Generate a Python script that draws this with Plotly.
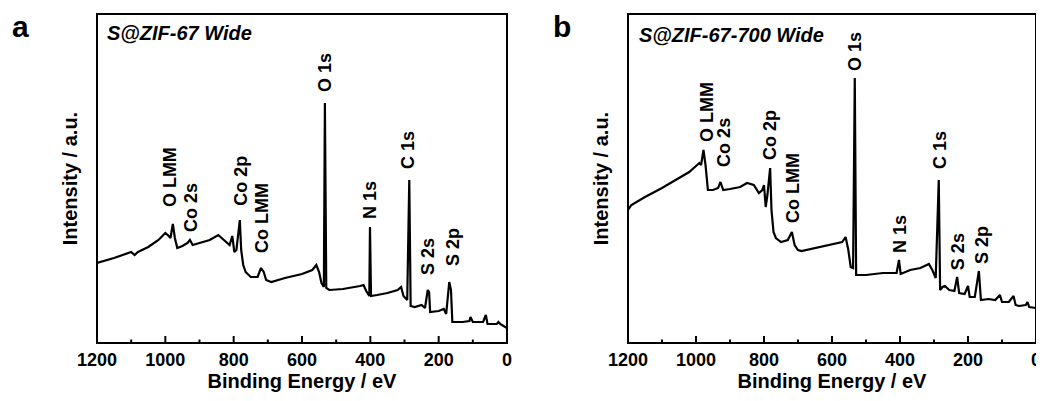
import plotly.graph_objects as go

# ---------------- data (binding energy in eV, intensity in a.u.) ----------------
energy_a = [1200, 1150, 1100, 1090, 1080, 1050, 1020, 1000, 990, 985, 978, 972, 965, 950, 935, 928,
            920, 900, 870, 845, 830, 812, 804, 798, 792, 782, 778, 772, 765, 750, 730, 720, 712, 705,
            690, 650, 600, 570, 558, 550, 543, 536, 533, 529, 520, 480, 430, 420, 412, 403, 401, 398,
            380, 350, 320, 310, 303, 292, 286, 282, 270, 250, 240, 232, 228, 225, 200, 185, 178, 169,
            164, 160, 130, 110, 107, 100, 70, 62, 57, 30, 25, 20, 10, 0]
intensity_a = [80, 85, 91, 88, 91, 96, 103, 110, 107, 105, 119, 105, 95, 97, 100, 103,
               98, 100, 103, 108, 103, 98, 107, 91, 93, 123, 93, 78, 71, 66, 66, 75, 71, 63,
               61, 65, 69, 73, 78, 71, 60, 56, 240, 55, 53, 54, 57, 58, 52, 47, 116, 47,
               48, 50, 53, 56, 47, 43, 163, 37, 36, 38, 35, 53, 51, 31, 32, 34, 29, 61,
               53, 21, 21, 22, 26, 21, 21, 28, 19, 19, 21, 19, 17, 15]

energy_b = [1200, 1190, 1150, 1100, 1050, 1020, 1000, 990, 985, 978, 972, 965, 950, 935, 928, 920,
            900, 870, 850, 830, 815, 805, 800, 795, 790, 782, 778, 772, 765, 750, 730, 718, 710, 700,
            690, 650, 600, 570, 560, 552, 545, 538, 533, 529, 500, 450, 410, 403, 398, 370, 340, 315,
            305, 295, 286, 282, 275, 268, 255, 240, 232, 226, 210, 200, 195, 180, 168, 162, 140, 120,
            106, 100, 80, 66, 60, 50, 30, 25, 20, 5, 0]
intensity_b = [133, 138, 146, 155, 165, 171, 177, 180, 178, 193, 178, 153, 153, 155, 161, 153,
               154, 156, 160, 158, 150, 153, 158, 136, 148, 175, 133, 111, 105, 101, 103, 111, 98, 93,
               92, 95, 98, 101, 106, 93, 76, 75, 265, 68, 68, 70, 70, 83, 69, 73, 75, 79,
               73, 65, 163, 53, 56, 57, 53, 52, 66, 50, 49, 57, 46, 46, 72, 43, 44, 43,
               48, 41, 41, 47, 38, 37, 38, 41, 36, 35, 35]

peaks_a = ["O LMM", "Co 2s", "Co 2p", "Co LMM", "O 1s", "N 1s", "C 1s", "S 2s", "S 2p"]
peak_x_a = [986, 925, 779, 717, 533, 401, 290, 231, 158]
peak_y_a = [166, 136, 162, 125, 271, 143, 193, 86, 96]

peaks_b = ["O LMM", "Co 2s", "Co 2p", "Co LMM", "O 1s", "N 1s", "C 1s", "S 2s", "S 2p"]
peak_x_b = [968, 918, 782, 715, 532, 400, 282, 229, 159]
peak_y_b = [231, 201, 208, 155, 291, 109, 193, 91, 98]

sample_a = "S@ZIF-67 Wide"
sample_b = "S@ZIF-67-700 Wide"
x_ticks = [1200, 1000, 800, 600, 400, 200, 0]
x_minor = [1100, 900, 700, 500, 300, 100]

# ---------------- figure ----------------
# page body has an 8px margin, so the figure is 8px smaller than the window
W, H = 1036, 393
OFF = 8
FONT = "Liberation Sans, Arial, sans-serif"


def px(sx):
    return (sx - OFF) / W


def py(sy):
    return 1 - (sy - OFF) / H


fig = go.Figure()
fig.add_trace(go.Scatter(x=energy_a, y=intensity_a, mode="lines",
                         line=dict(color="black", width=2.2), xaxis="x", yaxis="y",
                         showlegend=False))
fig.add_trace(go.Scatter(x=energy_b, y=intensity_b, mode="lines",
                         line=dict(color="black", width=2.2), xaxis="x2", yaxis="y2",
                         showlegend=False))

ydom = [py(343), py(14)]
title_font = dict(family=FONT, size=20, color="black")


def xaxis(dom, anchor):
    return dict(domain=dom, anchor=anchor, range=[1200, 0], autorange=False,
                showline=False, ticks="", tickmode="array", ticklabelstandoff=4,
                tickvals=x_ticks, ticktext=["<b>%d</b>" % v for v in x_ticks],
                tickfont=dict(family=FONT, size=18, color="black"),
                showgrid=False, zeroline=False, automargin=False,
                title=dict(text="<b>Binding Energy / eV</b>", standoff=0, font=title_font))


def yaxis(anchor):
    return dict(domain=ydom, anchor=anchor, range=[0, 329], autorange=False,
                showline=False, ticks="", showticklabels=False, showgrid=False,
                zeroline=False, automargin=False,
                title=dict(text="<b>Intensity / a.u.</b>", standoff=13, font=title_font))


# frame and inward tick marks, drawn with shapes on each panel's axes
shapes = []
for xr, yr in (("x", "y"), ("x2", "y2")):
    shapes.append(dict(type="rect", xref=xr + " domain", yref=yr + " domain",
                       x0=0, x1=1, y0=0, y1=1, line=dict(color="black", width=2),
                       fillcolor="rgba(0,0,0,0)", layer="above"))
    for v in x_ticks[1:-1]:
        shapes.append(dict(type="line", xref=xr, yref=yr + " domain", ysizemode="pixel",
                           yanchor=0, x0=v, x1=v, y0=0, y1=7,
                           line=dict(color="black", width=2), layer="above"))
    for v in x_minor:
        shapes.append(dict(type="line", xref=xr, yref=yr + " domain", ysizemode="pixel",
                           yanchor=0, x0=v, x1=v, y0=0, y1=3.5,
                           line=dict(color="black", width=2), layer="above"))

annotations = []
for name, ex, iy in zip(peaks_a, peak_x_a, peak_y_a):
    annotations.append(dict(x=ex, y=iy, xref="x", yref="y", text="<b>%s</b>" % name,
                            textangle=-90, showarrow=False,
                            font=dict(family=FONT, size=18, color="black")))
for name, ex, iy in zip(peaks_b, peak_x_b, peak_y_b):
    annotations.append(dict(x=ex, y=iy, xref="x2", yref="y2", text="<b>%s</b>" % name,
                            textangle=-90, showarrow=False,
                            font=dict(family=FONT, size=18, color="black")))

annotations.append(dict(x=px(105), y=py(33), xref="paper", yref="paper",
                        text="<b><i>%s</i></b>" % sample_a,
                        xanchor="left", yanchor="middle", showarrow=False,
                        font=dict(family=FONT, size=20, color="black")))
annotations.append(dict(x=px(637), y=py(35), xref="paper", yref="paper",
                        text="<b><i>%s</i></b>" % sample_b,
                        xanchor="left", yanchor="middle", showarrow=False,
                        font=dict(family=FONT, size=20, color="black")))
annotations.append(dict(x=px(20), y=1, xref="paper", yref="paper", text="<b>a</b>",
                        xanchor="center", yanchor="top", showarrow=False,
                        font=dict(family=FONT, size=30, color="black")))
annotations.append(dict(x=px(562), y=1, xref="paper", yref="paper", text="<b>b</b>",
                        xanchor="center", yanchor="top", showarrow=False,
                        font=dict(family=FONT, size=30, color="black")))

fig.update_layout(
    template="none",
    width=W, height=H,
    margin=dict(l=0, r=0, t=0, b=0, pad=0),
    paper_bgcolor="white", plot_bgcolor="white",
    xaxis=xaxis([px(97), px(507)], "y"),
    yaxis=yaxis("x"),
    xaxis2=xaxis([px(628), px(1036)], "y2"),
    yaxis2=yaxis("x2"),
    shapes=shapes,
    annotations=annotations,
    showlegend=False,
)

fig.write_html("out.html")
